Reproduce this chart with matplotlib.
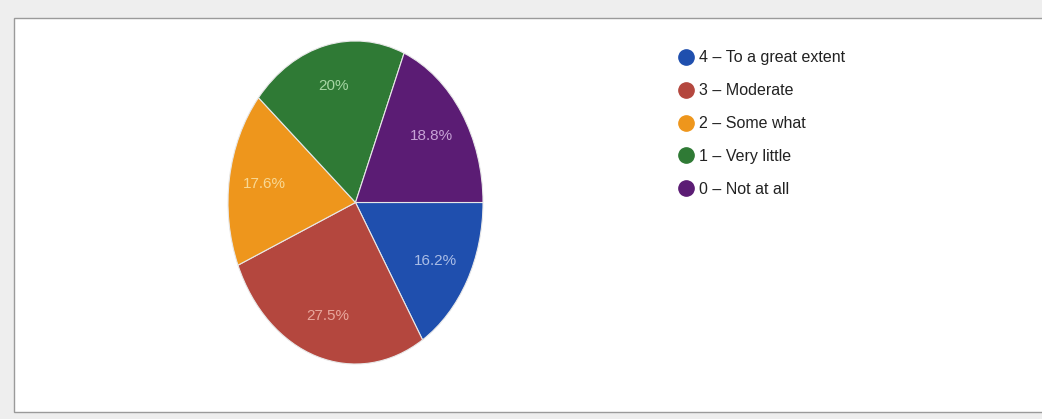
import matplotlib.pyplot as plt
import numpy as np
from matplotlib.lines import Line2D
from matplotlib.patches import Rectangle

# survey answers, clockwise from 3 o'clock
labels = ['4 \u2013 To a great extent', '3 \u2013 Moderate', '2 \u2013 Some what',
          '1 \u2013 Very little', '0 \u2013 Not at all']
shares = [16.2, 27.5, 17.6, 20.0, 18.8]
pct_text = ['16.2%', '27.5%', '17.6%', '20%', '18.8%']

colors = ['#1f4fae', '#b4473e', '#ee961c', '#2f7a35', '#5b1c74']
text_colors = ['#aabde6', '#e8a79d', '#f8d894', '#a6d6a3', '#c7a3d6']

plt.rcParams['font.family'] = ['Liberation Sans', 'DejaVu Sans']

fig = plt.figure(figsize=(10.42, 4.19), dpi=100)
fig.patch.set_facecolor('#eeeeee')

W, H = 1042.0, 419.0
# white card with thin grey frame, kept behind the axes
card = Rectangle((14 / W, 7 / H), 1.0, 1 - 25 / H, transform=fig.transFigure,
                 facecolor='white', edgecolor='#9a9a9a', linewidth=1.0, zorder=-5)
fig.patches.append(card)

# pie area (photo is stretched vertically, so keep aspect auto)
ax = fig.add_axes([228 / W, 1 - 364 / H, 255 / W, 323 / H])
wedges, _ = ax.pie(shares, colors=colors, startangle=0, counterclock=False,
                   wedgeprops=dict(edgecolor='#e8e8e8', linewidth=0.8))
ax.set_aspect('auto')
ax.set_xlim(-1.0, 1.0)
ax.set_ylim(-1.0, 1.0)
ax.axis('off')

for w, t, c in zip(wedges, pct_text, text_colors):
    mid = np.deg2rad((w.theta1 + w.theta2) / 2)
    ax.text(0.72 * np.cos(mid), 0.74 * np.sin(mid), t, ha='center', va='center',
            fontsize=11, color=c)

handles = [Line2D([], [], marker='o', linestyle='none', markersize=11,
                  markerfacecolor=c, markeredgecolor=c) for c in colors]
fig.legend(handles, labels, loc='upper left', bbox_to_anchor=(670 / W, 1 - 44 / H),
           frameon=False, fontsize=11.5, labelspacing=1.12, handletextpad=0.2,
           handlelength=1.2, borderaxespad=0, labelcolor='#222222')

fig.savefig('out.png', dpi=100, facecolor=fig.get_facecolor())
